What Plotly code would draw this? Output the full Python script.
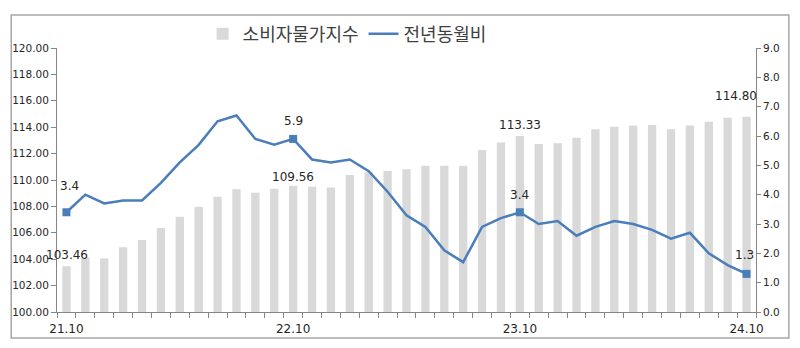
import plotly.graph_objects as go

# Monthly categories, Oct 2021 - Oct 2024
months = [
    "21.10", "21.11", "21.12",
    "22.01", "22.02", "22.03", "22.04", "22.05", "22.06",
    "22.07", "22.08", "22.09", "22.10", "22.11", "22.12",
    "23.01", "23.02", "23.03", "23.04", "23.05", "23.06",
    "23.07", "23.08", "23.09", "23.10", "23.11", "23.12",
    "24.01", "24.02", "24.03", "24.04", "24.05", "24.06",
    "24.07", "24.08", "24.09", "24.10",
]

# Consumer price index (left axis)
cpi = [
    103.46, 104.12, 104.06, 104.90, 105.45, 106.36, 107.22, 107.98, 108.74,
    109.29, 109.04, 109.34, 109.56, 109.49, 109.44, 110.37, 110.58, 110.68,
    110.81, 111.08, 111.08, 111.08, 112.27, 112.85, 113.33, 112.73, 112.78,
    113.20, 113.84, 114.04, 114.12, 114.17, 113.84, 114.12, 114.42, 114.72,
    114.80,
]

# Year-on-year change, % (right axis)
yoy = [
    3.4, 4.0, 3.7, 3.8, 3.8, 4.4, 5.1, 5.7, 6.5, 6.7, 5.9, 5.7, 5.9,
    5.2, 5.1, 5.2, 4.8, 4.1, 3.3, 2.9, 2.1, 1.7, 2.9, 3.2, 3.4, 3.0,
    3.1, 2.6, 2.9, 3.1, 3.0, 2.8, 2.5, 2.7, 2.0, 1.6, 1.3,
]

# October of each year gets a label on the axis and highlighted values
shown_ticks = ["21.10", "22.10", "23.10", "24.10"]
marked = [0, 12, 24, 36]

BLUE = "#4a7ebb"
GREY_BAR = "#d9d9d9"
AXIS = "#868686"
TXT = "#262626"
NUM_FONT = "DejaVu Sans"
KR_FONT = "Noto Sans CJK KR"

fig = go.Figure()
fig.add_trace(go.Bar(
    x=months, y=cpi, name="소비자물가지수",
    marker=dict(color=GREY_BAR, line=dict(width=0)), yaxis="y",
))
fig.add_trace(go.Scatter(
    x=months, y=yoy, name="전년동월비", mode="lines",
    line=dict(color=BLUE, width=2.5), yaxis="y2",
))
fig.add_trace(go.Scatter(
    x=[months[i] for i in marked], y=[yoy[i] for i in marked],
    mode="markers", marker=dict(symbol="square", size=8, color=BLUE),
    yaxis="y2", showlegend=False, hoverinfo="skip",
))

# value labels: (index, xshift, yshift); x given as category index
bar_labels = [(0, 1, 2), (12, 0, 0), (24, 0, 2), (36, -11, 12)]
line_labels = [(0, 3, 17), (12, 0, 9), (24, 0, 8), (36, -2, 10)]

annotations = []
for i, dx, dy in bar_labels:
    annotations.append(dict(
        x=i, y=cpi[i], xref="x", yref="y", text=f"{cpi[i]:.2f}",
        showarrow=False, yanchor="bottom", xshift=dx, yshift=dy,
        font=dict(family=NUM_FONT, size=12, color=TXT),
    ))
for i, dx, dy in line_labels:
    annotations.append(dict(
        x=i, y=yoy[i], xref="x", yref="y2", text=f"{yoy[i]:.1f}",
        showarrow=False, yanchor="bottom", xshift=dx, yshift=dy,
        font=dict(family=NUM_FONT, size=12, color=TXT),
    ))

fig.update_layout(
    width=800, height=348,
    margin=dict(l=54, r=44, t=48, b=36),
    paper_bgcolor="white", plot_bgcolor="white",
    bargap=0.56,
    showlegend=True,
    legend=dict(
        orientation="h", x=0.415, xanchor="center", y=1.053, yanchor="middle",
        font=dict(family=KR_FONT, size=18, color="#404040"),
        bgcolor="rgba(0,0,0,0)", itemwidth=30,
    ),
    xaxis=dict(
        type="category", tickmode="array", tickvals=months,
        ticktext=[m if m in shown_ticks else "" for m in months],
        tickangle=0, ticklabelstandoff=6,
        tickson="boundaries", ticks="outside", ticklen=5, tickcolor=AXIS,
        showline=True, linecolor=AXIS, linewidth=1, showgrid=False,
        tickfont=dict(family=NUM_FONT, size=12, color=TXT),
        range=[-0.5, len(months) - 0.5],
    ),
    yaxis=dict(
        range=[100, 120], dtick=2, tickformat=".2f",
        ticks="outside", ticklen=5, tickcolor=AXIS,
        showline=True, linecolor=AXIS, linewidth=1,
        showgrid=False, zeroline=False,
        tickfont=dict(family=NUM_FONT, size=10.5, color=TXT),
    ),
    yaxis2=dict(
        overlaying="y", side="right", range=[0, 9], dtick=1, tickformat=".1f",
        ticks="outside", ticklen=4, tickcolor=AXIS,
        showline=True, linecolor=AXIS, linewidth=1,
        showgrid=False, zeroline=False,
        tickfont=dict(family=NUM_FONT, size=10.5, color=TXT),
    ),
    annotations=annotations,
    shapes=[dict(
        type="rect", xref="paper", yref="paper",
        x0=-0.0655, x1=1.047, y0=-0.0985, y1=1.125,
        line=dict(color="#a6a6a6", width=1.5), fillcolor="rgba(0,0,0,0)",
        layer="below",
    )],
)

fig.write_html("out.html")
